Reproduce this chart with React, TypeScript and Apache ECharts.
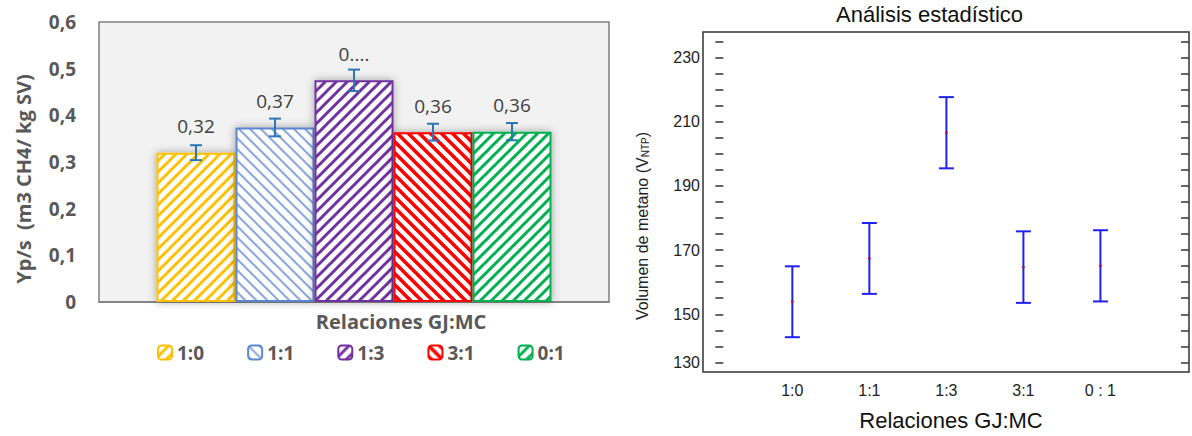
import React, { useEffect, useRef } from "react";
import * as echarts from "echarts";

// ---- Left chart data (Yp/s) ----
const barCategories = ["1:0", "1:1", "1:3", "3:1", "0:1"];
const barValues = [0.32, 0.374, 0.475, 0.364, 0.365];
const barErrors = [0.016, 0.019, 0.023, 0.018, 0.0185];
const barLabels = ["0,32", "0,37", "0....", "0,36", "0,36"];
const stripeColors = ["#FFC000", "#8FAADC", "#7030A0", "#FF0000", "#00B050"];
const borderColors = ["#FFC000", "#5B87D0", "#7030A0", "#FF0000", "#00B050"];
const stripeDirections = [1, -1, 1, -1, 1]; // 1 = "/", -1 = "\"
const stripeWidths = [3, 2.2, 3, 3.6, 3];

// ---- Right chart data (Análisis estadístico) ----
const statCategories = ["1:0", "1:1", "1:3", "3:1", "0 : 1"];
const statMeans = [153.9, 167.4, 206.6, 164.7, 165.1];
const statHalfWidths = [11.05, 11.05, 11.1, 11.15, 11.1];
const statLabelValues = [135, 150, 170, 190, 210, 230];
const statLabelTexts = ["130", "150", "170", "190", "210", "230"];
const statTickValues = [135, 140, 145, 150, 155, 160, 165, 170, 175, 180, 185, 190, 195, 200, 205, 210, 215, 220, 225, 230, 235];
const statXPositions = [1, 2, 3, 4, 5];

const BAR_W = 79;
const TILE = 11;
const LEFT_FONT = "'Open Sans', 'Noto Sans', sans-serif";
const RIGHT_FONT = "'Liberation Sans', Arial, sans-serif";

function makeHatch(color: string, dir: number, width: number) {
  const c = document.createElement("canvas");
  c.width = TILE;
  c.height = TILE;
  const ctx = c.getContext("2d")!;
  ctx.fillStyle = "#ffffff";
  ctx.fillRect(0, 0, TILE, TILE);
  ctx.strokeStyle = color;
  ctx.lineWidth = width;
  ctx.lineCap = "square";
  const s = TILE;
  ctx.beginPath();
  if (dir > 0) {
    ctx.moveTo(-2, 2); ctx.lineTo(2, -2);
    ctx.moveTo(-1, s + 1); ctx.lineTo(s + 1, -1);
    ctx.moveTo(s - 2, s + 2); ctx.lineTo(s + 2, s - 2);
  } else {
    ctx.moveTo(-2, s - 2); ctx.lineTo(2, s + 2);
    ctx.moveTo(-1, -1); ctx.lineTo(s + 1, s + 1);
    ctx.moveTo(s - 2, -2); ctx.lineTo(s + 2, 2);
  }
  ctx.stroke();
  return c;
}

export default function App() {
  const ref = useRef<HTMLDivElement>(null);
  useEffect(() => {
    document.body.style.margin = "0";
    if (!ref.current) return;
    const chart = echarts.init(ref.current, null, { renderer: "svg" });

    const barSeries = barCategories.map((name, i) => ({
      type: "bar",
      name,
      xAxisIndex: 0,
      yAxisIndex: 0,
      data: [barValues[i]],
      barWidth: BAR_W,
      barGap: "0%",
      itemStyle: {
        color: {
          image: makeHatch(stripeColors[i], stripeDirections[i], stripeWidths[i]),
          repeat: "repeat",
          imageWidth: TILE,
          imageHeight: TILE,
        },
        borderColor: borderColors[i],
        borderWidth: 2,
        shadowBlur: 8,
        shadowColor: "rgba(0,0,0,0.35)",
      },
      label: {
        show: true,
        position: "top",
        distance: 17,
        formatter: () => barLabels[i],
        fontFamily: LEFT_FONT,
        fontSize: 19,
        color: "#404040",
      },
      z: 2,
    }));

    const leftErrSeries = {
      type: "custom",
      xAxisIndex: 0,
      yAxisIndex: 0,
      z: 10,
      data: barValues.map((v, i) => [0, v, barErrors[i], i]),
      renderItem: (params: any, api: any) => {
        const idx = api.value(3);
        const m = api.value(1);
        const e = api.value(2);
        const top = api.coord([0, m + e]);
        const bot = api.coord([0, m - e]);
        const x = top[0] + (idx - 2) * BAR_W;
        const st = { stroke: "#2E75B6", lineWidth: 2 };
        return {
          type: "group",
          children: [
            { type: "line", shape: { x1: x, y1: top[1], x2: x, y2: bot[1] }, style: st },
            { type: "line", shape: { x1: x - 6, y1: top[1], x2: x + 6, y2: top[1] }, style: st },
            { type: "line", shape: { x1: x - 6, y1: bot[1], x2: x + 6, y2: bot[1] }, style: st },
          ],
        };
      },
    };

    const rightErrSeries = {
      type: "custom",
      xAxisIndex: 1,
      yAxisIndex: 1,
      z: 10,
      data: statMeans.map((m, i) => [statXPositions[i], m, statHalfWidths[i]]),
      renderItem: (params: any, api: any) => {
        const xv = api.value(0);
        const m = api.value(1);
        const h = api.value(2);
        const top = api.coord([xv, m + h]);
        const bot = api.coord([xv, m - h]);
        const mid = api.coord([xv, m]);
        const x = top[0];
        const st = { stroke: "#2020F0", lineWidth: 2 };
        return {
          type: "group",
          children: [
            { type: "line", shape: { x1: x, y1: top[1], x2: x, y2: bot[1] }, style: st },
            { type: "line", shape: { x1: x - 7.5, y1: top[1], x2: x + 7.5, y2: top[1] }, style: st },
            { type: "line", shape: { x1: x - 7.5, y1: bot[1], x2: x + 7.5, y2: bot[1] }, style: st },
            { type: "circle", shape: { cx: x, cy: mid[1], r: 1.4 }, style: { fill: "#B0104A" } },
          ],
        };
      },
    };

    const rightYCommon = {
      type: "value",
      gridIndex: 1,
      min: 132,
      max: 238,
      splitLine: { show: false },
      axisLine: { show: false },
      axisTick: {
        show: true,
        inside: true,
        length: 8,
        customValues: statTickValues,
        lineStyle: { color: "#333", width: 1.5 },
      },
    };

    chart.setOption({
      animation: false,
      title: {
        text: "Análisis estadístico",
        left: 836,
        top: 3,
        padding: 0,
        textStyle: { fontFamily: RIGHT_FONT, fontSize: 22, fontWeight: "normal", color: "#111" },
      },
      legend: {
        data: barCategories,
        left: 152,
        top: 338,
        itemWidth: 14,
        itemHeight: 14,
        itemGap: 43,
        textStyle: { fontFamily: LEFT_FONT, fontSize: 19, fontWeight: "bold", color: "#595959" },
      },
      grid: [
        {
          left: 99,
          top: 22,
          width: 510,
          height: 280,
          show: true,
          backgroundColor: "#F2F2F2",
          borderColor: "#7F7F7F",
          borderWidth: 1.5,
        },
        {
          left: 703,
          top: 32,
          width: 486,
          height: 345,
          show: true,
          backgroundColor: "#ffffff",
          borderColor: "#333",
          borderWidth: 1.5,
        },
      ],
      xAxis: [
        {
          type: "category",
          gridIndex: 0,
          data: [""],
          axisTick: { show: false },
          axisLabel: { show: false },
          axisLine: { show: true, lineStyle: { color: "#7F7F7F", width: 1.5 } },
          name: "Relaciones GJ:MC",
          nameLocation: "middle",
          nameGap: 9,
          nameTextStyle: {
            fontFamily: LEFT_FONT,
            fontSize: 20,
            fontWeight: "bold",
            color: "#595959",
            padding: [0, 0, 0, 94],
          },
        },
        {
          type: "value",
          gridIndex: 1,
          min: -0.16,
          max: 6.15,
          splitLine: { show: false },
          axisLine: { show: false },
          axisTick: { show: false },
          axisLabel: {
            customValues: statXPositions,
            formatter: (v: number) => statCategories[statXPositions.indexOf(v)] ?? "",
            fontFamily: RIGHT_FONT,
            fontSize: 16,
            color: "#222",
            margin: 10,
          },
          name: "Relaciones GJ:MC",
          nameLocation: "middle",
          nameGap: 37,
          nameTextStyle: {
            fontFamily: RIGHT_FONT,
            fontSize: 22,
            color: "#111",
            padding: [0, 0, 0, 10],
          },
        },
      ],
      yAxis: [
        {
          type: "value",
          gridIndex: 0,
          min: 0,
          max: 0.6,
          interval: 0.1,
          splitLine: { show: false },
          axisLine: { show: false },
          axisTick: { show: false },
          axisLabel: {
            margin: 23,
            formatter: (v: number) => (v === 0 ? "0" : v.toFixed(1).replace(".", ",")),
            fontFamily: LEFT_FONT,
            fontSize: 19,
            fontWeight: "bold",
            color: "#595959",
          },
          name: "Yp/s  (m3 CH4/ kg SV)",
          nameLocation: "middle",
          nameGap: 66,
          nameTextStyle: {
            fontFamily: LEFT_FONT,
            fontSize: 20,
            fontWeight: "bold",
            color: "#595959",
            padding: [0, 34, 0, 0],
          },
        },
        {
          ...rightYCommon,
          position: "left",
          axisLabel: {
            show: true,
            customValues: statLabelValues,
            formatter: (v: number) => statLabelTexts[statLabelValues.indexOf(v)] ?? "",
            fontFamily: RIGHT_FONT,
            fontSize: 16,
            color: "#222",
            margin: 3,
            padding: [8, 0, 0, 0],
          },
          name: "Volumen de metano (V{s|NTP})",
          nameLocation: "middle",
          nameGap: 53,
          nameTextStyle: {
            fontFamily: RIGHT_FONT,
            fontSize: 16,
            color: "#222",
            padding: [0, 48, 0, 0],
            rich: { s: { fontFamily: RIGHT_FONT, fontSize: 10, color: "#222", verticalAlign: "bottom" } },
          },
        },
        {
          ...rightYCommon,
          position: "right",
          axisLabel: { show: false },
        },
      ],
      series: [...barSeries, leftErrSeries, rightErrSeries],
    });

    return () => chart.dispose();
  }, []);

  return <div ref={ref} style={{ width: 1192, height: 436 }} />;
}
